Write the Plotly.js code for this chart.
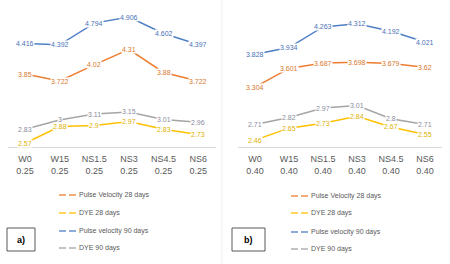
<!DOCTYPE html>
<html>
<head>
<meta charset="utf-8">
<script src="https://cdn.plot.ly/plotly-3.0.1.min.js"></script>
<style>html,body{margin:0;padding:0;background:#fff;}#chart{width:450px;height:264px;}</style>
</head>
<body>
<div id="chart"></div>
<script>
const categories = ['W0', 'W15', 'NS1.5', 'NS3', 'NS4.5', 'NS6'];
const ratioA = '0.25';
const ratioB = '0.40';
const seriesNames = ['Pulse Velocity 28 days', 'DYE 28 days', 'Pulse velocity 90 days', 'DYE 90 days'];

// Panel a) w/c 0.25
const pv28A = [3.85, 3.722, 4.02, 4.31, 3.88, 3.722];
const dye28A = [2.57, 2.88, 2.9, 2.97, 2.83, 2.73];
const pv90A = [4.416, 4.392, 4.794, 4.906, 4.602, 4.397];
const dye90A = [2.83, 3, 3.11, 3.15, 3.01, 2.96];

// Panel b) w/c 0.40
const pv28B = [3.304, 3.601, 3.687, 3.698, 3.679, 3.62];
const dye28B = [2.46, 2.65, 2.73, 2.84, 2.67, 2.55];
const pv90B = [3.828, 3.934, 4.263, 4.312, 4.192, 4.021];
const dye90B = [2.71, 2.82, 2.97, 3.01, 2.8, 2.71];

const lineColors = ['#ED7D31', '#FFC000', '#4F7FC4', '#A5A5A5'];
const labelColors = ['#D9782E', '#E0B000', '#4A72B8', '#8A8C9C'];

const panelA = [pv28A, dye28A, pv90A, dye90A];
const panelB = [pv28B, dye28B, pv90B, dye90B];

const traces = [];
const annotations = [];
function addPanel(data, xa, ya) {
  data.forEach((vals, s) => {
    traces.push({
      x: categories, y: vals, xaxis: xa, yaxis: ya,
      type: 'scatter', mode: 'lines',
      line: {color: lineColors[s], width: 1.5},
      name: seriesNames[s], showlegend: false, hoverinfo: 'skip'
    });
    vals.forEach((v, i) => {
      annotations.push({
        x: categories[i], y: v, xref: xa, yref: ya,
        text: String(v), showarrow: false, bgcolor: '#ffffff', borderpad: 0,
        font: {family: 'Liberation Sans, Arial', size: 7, color: labelColors[s]}
      });
    });
  });
}
addPanel(panelA, 'x', 'y');
addPanel(panelB, 'x2', 'y2');

const shapes = [];
// separator
shapes.push({type: 'line', xref: 'paper', yref: 'paper', x0: 222/450, x1: 222/450, y0: 0, y1: 1,
  line: {color: '#efefef', width: 1}});

// legends
function addLegend(x0, yRows, tag, boxX0, boxX1) {
  seriesNames.forEach((n, s) => {
    const y = 1 - yRows[s] / 264;
    shapes.push({type: 'line', xref: 'paper', yref: 'paper', x0: x0/450, x1: (x0+7)/450, y0: y, y1: y,
      line: {color: lineColors[s], width: 1.3}});
    shapes.push({type: 'line', xref: 'paper', yref: 'paper', x0: (x0+10)/450, x1: (x0+17)/450, y0: y, y1: y,
      line: {color: lineColors[s], width: 1.3}});
    annotations.push({xref: 'paper', yref: 'paper', x: (x0+18)/450, y: y, xanchor: 'left', yanchor: 'middle',
      text: n, showarrow: false, font: {family: 'Liberation Sans, Arial', size: 7, color: '#595959'}});
  });
  shapes.push({type: 'rect', xref: 'paper', yref: 'paper', x0: boxX0/450, x1: boxX1/450,
    y0: 1 - 251/264, y1: 1 - 228/264, line: {color: '#595959', width: 1}, fillcolor: '#ffffff'});
  annotations.push({xref: 'paper', yref: 'paper', x: (boxX0+boxX1)/2/450, y: 1 - 239.5/264,
    xanchor: 'center', yanchor: 'middle', text: '<b>' + tag + '</b>', showarrow: false,
    font: {family: 'Liberation Sans, Arial', size: 9, color: '#000000'}});
}
addLegend(59, [195, 213, 231, 248], 'a)', 7, 35);
addLegend(291, [196, 213, 232, 249], 'b)', 232, 265);

const xBase = {
  type: 'category', showgrid: false, zeroline: false, showline: true, linecolor: '#d9d9d9', linewidth: 1,
  ticks: '', ticklabelstandoff: 3, tickfont: {family: 'Liberation Sans, Arial', size: 9, color: '#595959'},
  tickvals: categories, fixedrange: true
};
const yBase = {showgrid: false, zeroline: false, showline: false, showticklabels: false, ticks: '',
  domain: [1 - 147/264, 1 - 12/264]};

const layout = {
  width: 450, height: 264,
  margin: {l: 0, r: 0, t: 0, b: 0},
  paper_bgcolor: '#ffffff', plot_bgcolor: 'rgba(0,0,0,0)',
  showlegend: false,
  xaxis: Object.assign({}, xBase, {domain: [7.7/450, 215.5/450], range: [-0.5, 5.5],
    ticktext: categories.map(c => c + '<br>' + ratioA), anchor: 'y'}),
  xaxis2: Object.assign({}, xBase, {domain: [238/450, 442/450], range: [-0.5, 5.5],
    ticktext: categories.map(c => c + '<br>' + ratioB), anchor: 'y2'}),
  yaxis: Object.assign({}, yBase, {range: [2.5, 5.0], anchor: 'x'}),
  yaxis2: Object.assign({}, yBase, {range: [2.35, 4.5], anchor: 'x2'}),
  annotations: annotations,
  shapes: shapes
};

Plotly.newPlot('chart', traces, layout, {staticPlot: true, displayModeBar: false});
</script>
</body>
</html>
